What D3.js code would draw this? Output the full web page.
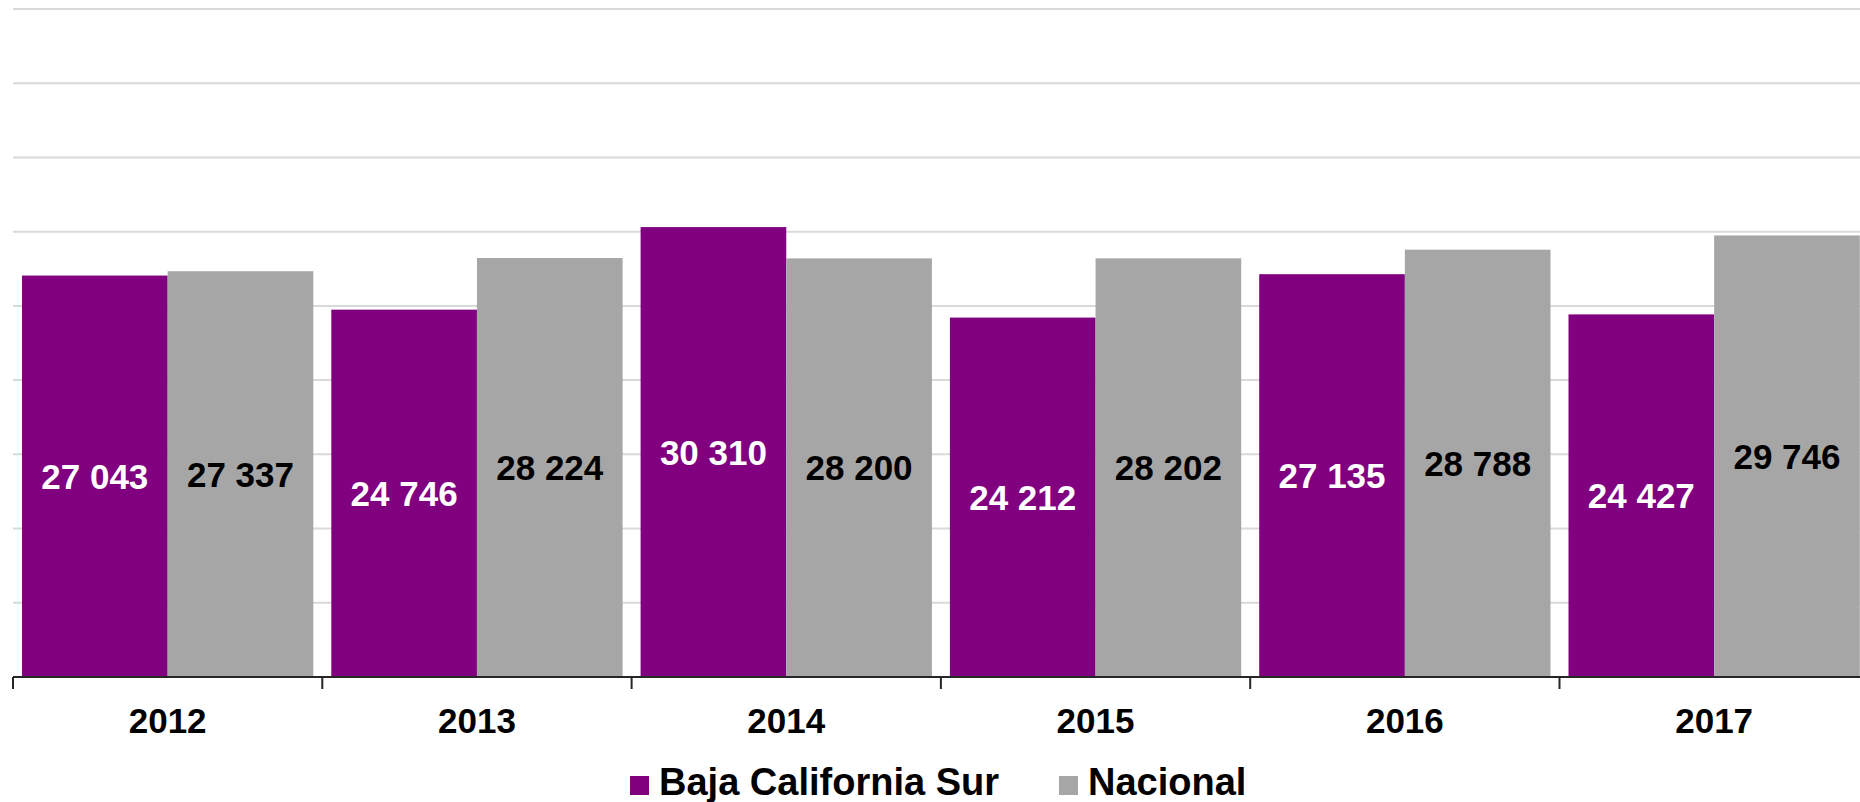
<!DOCTYPE html>
<html>
<head>
<meta charset="utf-8">
<script src="https://cdn.jsdelivr.net/npm/d3@7"></script>
<style>
  html, body { margin: 0; padding: 0; background: #fff; }
  svg { display: block; font-family: "Liberation Sans", Arial, sans-serif; }
</style>
</head>
<body>
<div id="wrapper"></div>
<script>
const years = ["2012", "2013", "2014", "2015", "2016", "2017"];
const seriesNames = ["Baja California Sur", "Nacional"];
const bcsValues = [27043, 24746, 30310, 24212, 27135, 24427];
const nacValues = [27337, 28224, 28200, 28202, 28788, 29746];
const gridTicks = [0, 5000, 10000, 15000, 20000, 25000, 30000, 35000, 40000, 45000];

function drawChart() {
    const colors = { "Baja California Sur": "#800080", "Nacional": "#a6a6a6" };
    const labelColors = { "Baja California Sur": "#ffffff", "Nacional": "#000000" };

    let dimensions = {
        width: 1860,
        height: 802,
        margin: { top: 9, left: 13, bottom: 125 }
    };
    const baseY = dimensions.height - dimensions.margin.bottom; // 677

    const dataset = years.map((y, i) => ({
        year: y,
        values: [
            { name: seriesNames[0], value: bcsValues[i] },
            { name: seriesNames[1], value: nacValues[i] }
        ]
    }));

    const svg = d3.select("#wrapper")
        .append("svg")
            .attr("width", dimensions.width)
            .attr("height", dimensions.height);

    const xScale = d3.scaleBand()
        .domain(years)
        .range([dimensions.margin.left, dimensions.margin.left + 6 * 309.3]);

    const subScale = d3.scaleBand()
        .domain(seriesNames)
        .range([9, xScale.bandwidth() - 9]);

    const yScale = d3.scaleLinear()
        .domain([0, 45000])
        .range([baseY, dimensions.margin.top]);

    // gridlines
    svg.append("g")
        .selectAll("line")
        .data(gridTicks.slice(1))
        .join("line")
            .attr("x1", dimensions.margin.left)
            .attr("x2", dimensions.width)
            .attr("y1", d => yScale(d))
            .attr("y2", d => yScale(d))
            .attr("stroke", "#d9d9d9")
            .attr("stroke-width", 2);

    // bars
    const groups = svg.append("g")
        .selectAll("g")
        .data(dataset)
        .join("g")
            .attr("transform", d => `translate(${xScale(d.year)},0)`);

    groups.selectAll("rect")
        .data(d => d.values)
        .join("rect")
            .attr("x", d => subScale(d.name))
            .attr("width", subScale.bandwidth())
            .attr("y", d => yScale(d.value))
            .attr("height", d => baseY - yScale(d.value))
            .attr("fill", d => colors[d.name]);

    const fmt = v => d3.format(",")(v).replace(",", " ");

    groups.selectAll("text")
        .data(d => d.values)
        .join("text")
            .attr("x", d => subScale(d.name) + subScale.bandwidth() / 2)
            .attr("y", d => (yScale(d.value) + baseY) / 2)
            .attr("dy", "0.36em")
            .attr("text-anchor", "middle")
            .attr("font-size", 35)
            .attr("font-weight", "bold")
            .attr("fill", d => labelColors[d.name])
            .text(d => fmt(d.value));

    // x axis
    const axis = svg.append("g")
        .attr("transform", `translate(0,${baseY})`)
        .call(d3.axisBottom(xScale).tickSize(0).tickPadding(0));
    axis.select(".domain").remove();
    axis.selectAll("text")
        .attr("y", 56)
        .attr("dy", 0)
        .attr("font-size", 35)
        .attr("font-weight", "bold")
        .attr("font-family", "Liberation Sans, Arial, sans-serif")
        .attr("fill", "#000");

    axis.append("line")
        .attr("x1", dimensions.margin.left)
        .attr("x2", dimensions.width)
        .attr("stroke", "#262626")
        .attr("stroke-width", 2);

    axis.selectAll(".boundary")
        .data(years)
        .join("line")
            .attr("class", "boundary")
            .attr("x1", d => xScale(d))
            .attr("x2", d => xScale(d))
            .attr("y1", 0)
            .attr("y2", 12)
            .attr("stroke", "#262626")
            .attr("stroke-width", 2);

    // legend
    const legendItems = [
        { name: seriesNames[0], x: 630 },
        { name: seriesNames[1], x: 1059 }
    ];
    const legend = svg.append("g");
    legend.selectAll("rect")
        .data(legendItems)
        .join("rect")
            .attr("x", d => d.x)
            .attr("y", 776)
            .attr("width", 19)
            .attr("height", 19)
            .attr("fill", d => colors[d.name]);
    legend.selectAll("text")
        .data(legendItems)
        .join("text")
            .attr("x", d => d.x + 29)
            .attr("y", 795)
            .attr("font-size", 38)
            .attr("font-weight", "bold")
            .attr("fill", "#000")
            .text(d => d.name);
}

drawChart();
</script>
</body>
</html>
